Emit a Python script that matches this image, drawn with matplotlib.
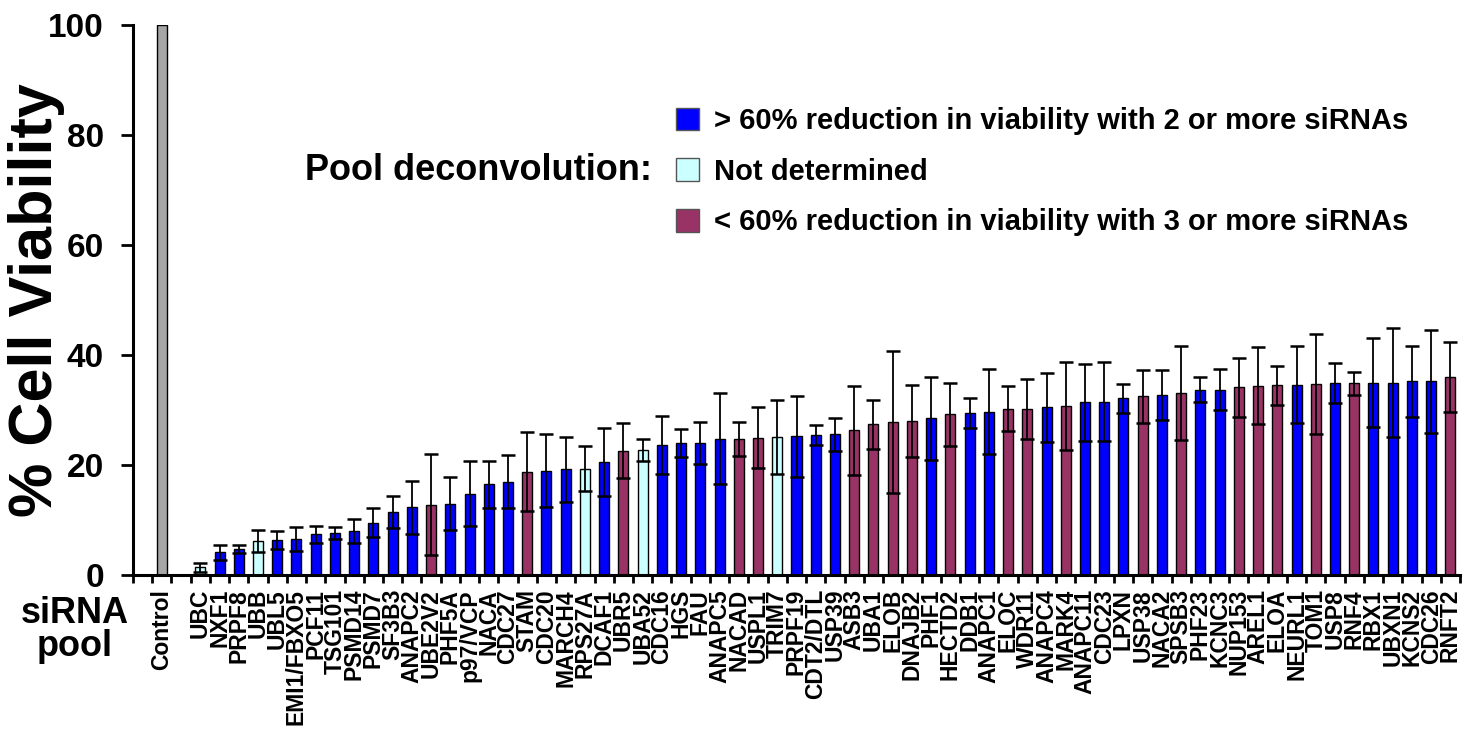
import numpy as np
import matplotlib
matplotlib.use("Agg")
import matplotlib.pyplot as plt
from matplotlib.patches import Patch

plt.rcParams['font.family'] = ['Liberation Sans', 'DejaVu Sans']
plt.rcParams['font.weight'] = 'bold'

# siRNA pools, sorted by viability
pools = ['UBC', 'NXF1', 'PRPF8', 'UBB', 'UBL5', 'EMI1/FBXO5', 'PCF11', 'TSG101',
         'PSMD14', 'PSMD7', 'SF3B3', 'ANAPC2', 'UBE2V2', 'PHF5A', 'p97/VCP', 'NACA',
         'CDC27', 'STAM', 'CDC20', 'MARCH4', 'RPS27A', 'DCAF1', 'UBR5', 'UBA52',
         'CDC16', 'HGS', 'FAU', 'ANAPC5', 'NACAD', 'USPL1', 'TRIM7', 'PRPF19',
         'CDT2/DTL', 'USP39', 'ASB3', 'UBA1', 'ELOB', 'DNAJB2', 'PHF1', 'HECTD2',
         'DDB1', 'ANAPC1', 'ELOC', 'WDR11', 'ANAPC4', 'MARK4', 'ANAPC11', 'CDC23',
         'LPXN', 'USP38', 'NACA2', 'SPSB3', 'PHF23', 'KCNC3', 'NUP153', 'AREL1',
         'ELOA', 'NEURL1', 'TOM1', 'USP8', 'RNF4', 'RBX1', 'UBXN1', 'KCNS2',
         'CDC26', 'RNFT2']

viability = [1.4, 4.1, 4.7, 6.1, 6.4, 6.5, 7.4, 7.7,
             8.0, 9.5, 11.4, 12.3, 12.8, 13.0, 14.8, 16.5,
             17.0, 18.8, 19.0, 19.2, 19.3, 20.5, 22.6, 22.7,
             23.7, 24.0, 24.0, 24.8, 24.8, 25.0, 25.1, 25.2,
             25.4, 25.6, 26.3, 27.4, 27.9, 28.0, 28.5, 29.2,
             29.4, 29.7, 30.2, 30.2, 30.5, 30.7, 31.4, 31.5,
             32.1, 32.5, 32.7, 33.1, 33.7, 33.7, 34.1, 34.4,
             34.5, 34.6, 34.7, 34.9, 34.9, 35.0, 35.0, 35.2,
             35.2, 36.0]

sd = [0.8, 1.3, 0.7, 2.0, 1.6, 2.2, 1.5, 1.1,
      2.1, 2.6, 2.9, 4.8, 9.2, 4.8, 5.9, 4.3,
      4.9, 7.2, 6.7, 5.9, 4.1, 6.2, 5.0, 2.0,
      5.3, 2.5, 3.9, 8.3, 3.1, 5.5, 6.8, 7.3,
      1.8, 3.0, 8.1, 4.4, 12.9, 6.5, 7.5, 5.8,
      2.7, 7.7, 4.1, 5.5, 6.3, 8.0, 7.0, 7.2,
      2.6, 4.8, 4.5, 8.6, 2.3, 3.7, 5.3, 7.0,
      3.5, 7.0, 9.1, 3.7, 2.1, 8.1, 9.9, 6.4,
      9.3, 6.3]

# A = >60% reduction with 2+ siRNAs, N = not determined, B = <60% with 3+ siRNAs
status = ['N', 'A', 'A', 'N', 'A', 'A', 'A', 'A',
          'A', 'A', 'A', 'A', 'B', 'A', 'A', 'A',
          'A', 'B', 'A', 'A', 'N', 'A', 'B', 'N',
          'A', 'A', 'A', 'A', 'B', 'B', 'N', 'A',
          'A', 'A', 'B', 'B', 'B', 'B', 'A', 'B',
          'A', 'A', 'B', 'B', 'A', 'B', 'A', 'A',
          'A', 'B', 'A', 'B', 'A', 'A', 'B', 'B',
          'B', 'A', 'B', 'A', 'B', 'A', 'A', 'A',
          'A', 'B']

control_value = 100

colors = {'A': '#0000FF', 'N': '#CCFFFF', 'B': '#993366'}
legend_text = {'A': '> 60% reduction in viability with 2 or more siRNAs',
               'N': 'Not determined',
               'B': '< 60% reduction in viability with 3 or more siRNAs'}

fig = plt.figure(figsize=(14.75, 7.38), dpi=100)
ax = fig.add_axes([133/1475, 1-575/738, 1327/1475, 550/738])

x_pools = np.arange(len(pools)) + 2
bw = 0.52

ax.bar(0, control_value, width=bw, color='#A6A6A6', edgecolor='black', linewidth=1)
ax.bar(x_pools, viability, width=bw, color=[colors[s] for s in status],
       edgecolor='black', linewidth=1, zorder=2)
ax.errorbar(x_pools, viability, yerr=sd, fmt='none', ecolor='black',
            elinewidth=1.3, capsize=5, capthick=1.8, zorder=3)

ax.set_xlim(-1.5, len(pools) + 1.5)
ax.set_ylim(0, 100)
ax.set_yticks([0, 20, 40, 60, 80, 100])
ax.tick_params(axis='y', labelsize=24, length=9, width=2, pad=12)

# tick marks between categories, labels at the bar centres
ax.set_xticks(np.arange(-1.5, len(pools) + 2, 1.0))
ax.set_xticklabels([])
ax.set_xticks(np.arange(len(pools) + 2), ['Control', ''] + pools, minor=True)
ax.tick_params(axis='x', which='major', length=6, width=2, direction='out')
ax.tick_params(axis='x', which='minor', length=0, labelsize=16.5, rotation=90, pad=10)

for s in ['top', 'right']:
    ax.spines[s].set_visible(False)
for s in ['left', 'bottom']:
    ax.spines[s].set_linewidth(2.2)

ax.set_ylabel('% Cell Viability', fontsize=44, fontweight='bold')
ax.yaxis.set_label_coords(-0.073, 0.5)
ax.yaxis.label.set_va('center')

fig.text(75/1475, 1-630/738, 'siRNA\npool', fontsize=26, ha='center', va='center',
         linespacing=0.95)

handles = [Patch(facecolor=colors[k], edgecolor='#555555', label=legend_text[k])
           for k in ['A', 'N', 'B']]
ax.legend(handles=handles, loc='upper left', bbox_to_anchor=(676/1475, 1-107/738),
          bbox_transform=fig.transFigure, frameon=False, fontsize=21,
          handlelength=0.8, handleheight=0.8, handletextpad=0.5,
          labelspacing=0.78, borderpad=0, borderaxespad=0)
fig.text(652/1475, 1-170/738, 'Pool deconvolution:', fontsize=26, ha='right', va='center')

fig.savefig('out.png', dpi=100)
